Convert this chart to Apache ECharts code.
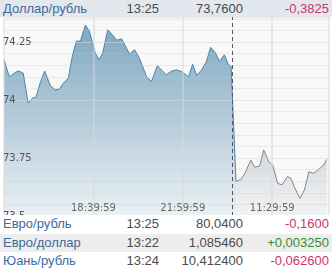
<!DOCTYPE html>
<html>
<head>
<meta charset="utf-8">
<script src="https://cdn.jsdelivr.net/npm/echarts@6/dist/echarts.min.js"></script>
<style>
  html, body { margin: 0; padding: 0; background: #ffffff; }
  #wrap { position: relative; width: 332px; height: 274px; overflow: hidden; font-family: "Liberation Sans", Arial, sans-serif; }
  #chart { position: absolute; left: 0; top: 0; width: 332px; height: 274px; }
  .row { position: absolute; left: 0; width: 332px; font-size: 13px; }
  .row span { position: absolute; white-space: nowrap; }
  .name { left: 3px; color: #3b6b9b; }
  .time { right: 173px; color: #4a4a4a; }
  .val { right: 89px; color: #4a4a4a; }
  .chg { right: 3px; }
  .neg { color: #cc3370; }
  .pos { color: #3a8c2a; }
</style>
</head>
<body>
<div id="wrap">
  <div id="chart"></div>
  <div id="table"></div>
</div>
<script>
// ---- data ----
const xTickValues = [400, 600, 800];
const xTickLabels = ['18:39:59', '21:59:59', '11:29:59'];
const sessionBreak = 710;

const day1X = [200, 212, 223, 232, 243, 254, 265, 271, 282, 291, 304, 315, 324, 333, 344, 353, 362, 371, 382, 391,
               404, 413, 421, 432, 443, 452, 463, 481, 492, 503, 519, 530, 534, 543, 552, 563, 574, 585, 596, 607,
               613, 622, 631, 642, 653, 662, 673, 682, 693, 702, 708, 719];
const day1Y = [74.174, 74.100, 74.116, 74.126, 74.116, 73.987, 74.010, 74.010, 74.080, 74.125, 74.060, 74.044, 74.047, 74.073, 74.095, 74.190, 74.254, 74.254, 74.323, 74.297,
               74.203, 74.174, 74.203, 74.303, 74.280, 74.258, 74.264, 74.198, 74.217, 74.180, 74.100, 74.080, 74.087, 74.148, 74.130, 74.109, 74.124, 74.130, 74.124, 74.109,
               74.100, 74.155, 74.106, 74.130, 74.167, 74.227, 74.203, 74.167, 74.195, 74.152, 74.145, 73.648];

const day2X = [719, 730, 739, 752, 761, 772, 781, 792, 801, 812, 822, 834, 842, 851, 862, 872, 882, 892, 904, 915, 922];
const day2Y = [73.648, 73.658, 73.684, 73.741, 73.710, 73.716, 73.785, 73.734, 73.720, 73.641, 73.634, 73.670, 73.662, 73.619, 73.576, 73.612, 73.691, 73.684, 73.701, 73.720, 73.744];

const pairNames   = ['Доллар/рубль', 'Евро/рубль', 'Евро/доллар', 'Юань/рубль'];
const pairTimes   = ['13:25', '13:25', '13:22', '13:24'];
const pairValues  = ['73,7600', '80,0400', '1,085460', '10,412400'];
const pairChanges = ['-0,3825', '-0,1600', '+0,003250', '-0,062600'];

// ---- table (header + rows) ----
const rowTops = [0, 215, 233.5, 252];
const rowHeights = [17, 18.5, 18.5, 18.5];
const rowBg = ['#e3e7ee', '#ffffff', '#ededed', '#ffffff'];
const table = document.getElementById('table');
pairNames.forEach((n, i) => {
  const d = document.createElement('div');
  d.className = 'row';
  d.style.top = rowTops[i] + 'px';
  d.style.height = rowHeights[i] + 'px';
  d.style.lineHeight = rowHeights[i] + 'px';
  d.style.background = rowBg[i];
  const cls = pairChanges[i].charAt(0) === '-' ? 'neg' : 'pos';
  d.innerHTML = '<span class="name">' + n + '</span>' +
                '<span class="time">' + pairTimes[i] + '</span>' +
                '<span class="val">' + pairValues[i] + '</span>' +
                '<span class="chg ' + cls + '">' + pairChanges[i] + '</span>';
  table.appendChild(d);
});

// ---- chart ----
const chart = echarts.init(document.getElementById('chart'), null, { renderer: 'canvas' });
const pts1 = day1X.map((x, i) => [x, day1Y[i]]);
const pts2 = day2X.map((x, i) => [x, day2Y[i]]);

chart.setOption({
  animation: false,
  grid: { left: 3, right: 0, top: 17, bottom: 58, show: true, backgroundColor: '#f8f8f8', borderWidth: 0 },
  xAxis: {
    type: 'value', min: 200, max: 927, interval: 200, z: 5,
    axisLine: { show: false }, axisTick: { show: false },
    splitLine: { show: true, lineStyle: { color: 'rgba(215,215,215,0.5)', width: 2 } },
    axisLabel: {
      inside: true, margin: 3, color: '#666', fontFamily: 'DejaVu Sans', fontSize: 10,
      formatter: v => { const k = xTickValues.indexOf(v); return k >= 0 ? xTickLabels[k] : ''; }
    }
  },
  yAxis: {
    type: 'value', min: 73.5, max: 74.358, interval: 0.25, z: 5,
    axisLine: { show: false }, axisTick: { show: false },
    splitLine: { show: true, lineStyle: { color: 'rgba(215,215,215,0.55)', width: 1 } },
    minorTick: { show: false, splitNumber: 5 },
    minorSplitLine: { show: true, lineStyle: { color: 'rgba(200,200,200,0.3)', width: 1 } },
    axisLabel: {
      inside: true, margin: -1, color: '#555', fontFamily: 'DejaVu Sans', fontSize: 10,
      showMaxLabel: false
    }
  },
  series: [
    {
      type: 'line', data: pts1, showSymbol: false, z: 2,
      lineStyle: { color: '#4a84a8', width: 1 },
      areaStyle: {
        color: new echarts.graphic.LinearGradient(0, 0, 0, 1, [
          { offset: 0, color: '#4a85a9' },
          { offset: 1, color: '#e6eef3' }
        ])
      }
    },
    {
      type: 'line', data: pts2, showSymbol: false, z: 2,
      lineStyle: { color: '#7d858d', width: 1 },
      areaStyle: {
        color: new echarts.graphic.LinearGradient(0, 0, 0, 1, [
          { offset: 0, color: '#c6cbd1' },
          { offset: 1, color: '#eff1f3' }
        ])
      },
      markLine: {
        silent: true, symbol: ['none', 'none'], label: { show: false },
        lineStyle: { color: '#556', type: [4, 3], width: 1 },
        data: [{ xAxis: sessionBreak }]
      }
    }
  ]
});
</script>
</body>
</html>
